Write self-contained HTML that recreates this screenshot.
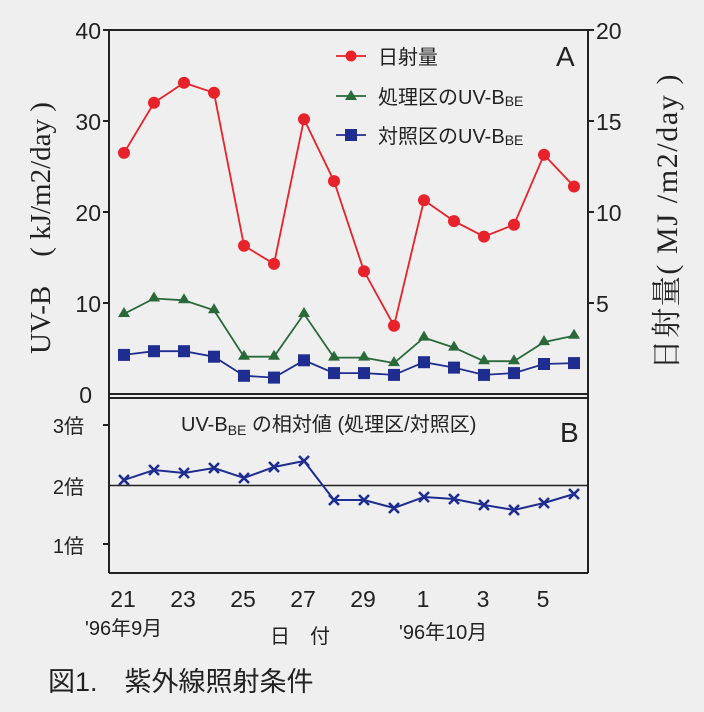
<!DOCTYPE html>
<html><head><meta charset="utf-8"><style>
html,body{margin:0;padding:0;background:#efefef;}
svg{display:block;font-family:"Liberation Sans","Noto Sans CJK JP",sans-serif;}
</style></head><body>
<svg width="704" height="712" viewBox="0 0 704 712" xmlns="http://www.w3.org/2000/svg">
<rect width="704" height="712" fill="#efefef"/>
<g stroke="#222" stroke-width="2" fill="none">
<line x1="109" y1="30" x2="588" y2="30"/>
<line x1="109" y1="30" x2="109" y2="573"/>
<line x1="588" y1="30" x2="588" y2="573"/>
<line x1="109" y1="394" x2="588" y2="394"/>
<line x1="109" y1="398" x2="588" y2="398"/>
<line x1="109" y1="573" x2="588" y2="573"/>
<line x1="109" y1="485.5" x2="588" y2="485.5" stroke-width="1.5"/>
<line x1="103" y1="30" x2="109" y2="30"/><line x1="103" y1="121" x2="109" y2="121"/>
<line x1="103" y1="212" x2="109" y2="212"/><line x1="103" y1="303" x2="109" y2="303"/>
<line x1="588" y1="121" x2="594" y2="121"/><line x1="588" y1="212" x2="594" y2="212"/>
<line x1="588" y1="303" x2="594" y2="303"/><line x1="588" y1="30" x2="594" y2="30"/>
<line x1="103" y1="425" x2="109" y2="425"/><line x1="103" y1="544" x2="109" y2="544"/>
</g>
<g font-size="23" fill="#222" text-anchor="end">
<text x="101" y="39">40</text><text x="101" y="130">30</text><text x="101" y="221">20</text>
<text x="101" y="312">10</text><text x="92" y="403">0</text>
</g>
<g font-size="23" fill="#222">
<text x="596" y="39">20</text><text x="596" y="130">15</text><text x="596" y="221">10</text><text x="596" y="312">5</text>
</g>
<g font-size="20" fill="#222" text-anchor="end">
<text x="84" y="433">3倍</text><text x="84" y="494">2倍</text><text x="84" y="553">1倍</text>
</g>
<text transform="translate(50,228) rotate(-90)" font-family="Liberation Serif,'Noto Serif CJK SC',serif" font-size="29" fill="#222" text-anchor="middle">UV-B　( kJ/m2/day )</text>
<text transform="translate(677,222) rotate(-90)" font-family="Liberation Serif,'Noto Serif CJK SC',serif" font-size="30" fill="#222" text-anchor="middle" textLength="295" lengthAdjust="spacing">日射量( MJ /m2/day )</text>
<polyline fill="none" stroke="#e8222a" stroke-width="1.8" points="124,152.9 154,102.8 184,82.8 214,92.8 244,245.7 274,263.9 304,119.2 334,181.1 364,271.2 394,325.8 424,200.2 454,221.1 484,236.6 514,224.7 544,154.7 574,186.5"/>
<g fill="#e8222a">
<circle cx="124" cy="152.9" r="6"/><circle cx="154" cy="102.8" r="6"/><circle cx="184" cy="82.8" r="6"/><circle cx="214" cy="92.8" r="6"/><circle cx="244" cy="245.7" r="6"/><circle cx="274" cy="263.9" r="6"/><circle cx="304" cy="119.2" r="6"/><circle cx="334" cy="181.1" r="6"/><circle cx="364" cy="271.2" r="6"/><circle cx="394" cy="325.8" r="6"/><circle cx="424" cy="200.2" r="6"/><circle cx="454" cy="221.1" r="6"/><circle cx="484" cy="236.6" r="6"/><circle cx="514" cy="224.7" r="6"/><circle cx="544" cy="154.7" r="6"/><circle cx="574" cy="186.5" r="6"/>
</g>
<polyline fill="none" stroke="#2a6a3a" stroke-width="1.8" points="124,313.9 154,298.5 184,300.3 214,310.3 244,356.7 274,356.7 304,313.9 334,357.6 364,357.6 394,363.1 424,337.6 454,347.6 484,361.2 514,361.2 544,342.1 574,335.8"/>
<g fill="#2a6a3a">
<path d="M124,307 l6,10 h-12z"/><path d="M154,291.5 l6,10 h-12z"/><path d="M184,293.3 l6,10 h-12z"/><path d="M214,303.3 l6,10 h-12z"/><path d="M244,349.7 l6,10 h-12z"/><path d="M274,349.7 l6,10 h-12z"/><path d="M304,307 l6,10 h-12z"/><path d="M334,350.6 l6,10 h-12z"/><path d="M364,350.6 l6,10 h-12z"/><path d="M394,356.1 l6,10 h-12z"/><path d="M424,330.6 l6,10 h-12z"/><path d="M454,340.6 l6,10 h-12z"/><path d="M484,354.2 l6,10 h-12z"/><path d="M514,354.2 l6,10 h-12z"/><path d="M544,335.1 l6,10 h-12z"/><path d="M574,328.8 l6,10 h-12z"/>
</g>
<polyline fill="none" stroke="#1e2d8f" stroke-width="1.8" points="124,354.9 154,351.2 184,351.2 214,356.7 244,375.8 274,377.6 304,360.3 334,373.1 364,373.1 394,374.9 424,362.2 454,367.6 484,374.9 514,373.1 544,364 574,363.1"/>
<g fill="#1e2d8f">
<rect x="118" y="348.9" width="12" height="12"/><rect x="148" y="345.2" width="12" height="12"/><rect x="178" y="345.2" width="12" height="12"/><rect x="208" y="350.7" width="12" height="12"/><rect x="238" y="369.8" width="12" height="12"/><rect x="268" y="371.6" width="12" height="12"/><rect x="298" y="354.3" width="12" height="12"/><rect x="328" y="367.1" width="12" height="12"/><rect x="358" y="367.1" width="12" height="12"/><rect x="388" y="368.9" width="12" height="12"/><rect x="418" y="356.2" width="12" height="12"/><rect x="448" y="361.6" width="12" height="12"/><rect x="478" y="368.9" width="12" height="12"/><rect x="508" y="367.1" width="12" height="12"/><rect x="538" y="358" width="12" height="12"/><rect x="568" y="357.1" width="12" height="12"/>
</g>
<line x1="336" y1="56" x2="366" y2="56" stroke="#e8222a" stroke-width="1.8"/><circle cx="351" cy="56" r="5.5" fill="#e8222a"/>
<line x1="336" y1="96" x2="366" y2="96" stroke="#2a6a3a" stroke-width="1.8"/><path d="M351,90 l6,10 h-12z" fill="#2a6a3a"/>
<line x1="336" y1="135" x2="366" y2="135" stroke="#1e2d8f" stroke-width="1.8"/><rect x="345" y="129" width="12" height="12" fill="#1e2d8f"/>
<g font-size="20" fill="#222">
<text x="378" y="64">日射量</text>
<text x="378" y="104">処理区のUV-B<tspan font-size="14" dy="2">BE</tspan></text>
<text x="378" y="143">対照区のUV-B<tspan font-size="14" dy="2">BE</tspan></text>
<text x="181" y="431">UV-B<tspan font-size="14" dy="4">BE</tspan><tspan dy="-4"> の相対値 (処理区/対照区)</tspan></text>
</g>
<text x="556" y="66" font-size="28" fill="#222">A</text>
<text x="560" y="442" font-size="28" fill="#222">B</text>
<polyline fill="none" stroke="#1e2d8f" stroke-width="2" points="124,480 154,470 184,473 214,468 244,478 274,467 304,461 334,500 364,500 394,508 424,497 454,499 484,505 514,510 544,503 574,494"/>
<g stroke="#1e2d8f" stroke-width="2.6">
<path d="M119,475l10,10M129,475l-10,10"/><path d="M149,465l10,10M159,465l-10,10"/><path d="M179,468l10,10M189,468l-10,10"/><path d="M209,463l10,10M219,463l-10,10"/><path d="M239,473l10,10M249,473l-10,10"/><path d="M269,462l10,10M279,462l-10,10"/><path d="M299,456l10,10M309,456l-10,10"/><path d="M329,495l10,10M339,495l-10,10"/><path d="M359,495l10,10M369,495l-10,10"/><path d="M389,503l10,10M399,503l-10,10"/><path d="M419,492l10,10M429,492l-10,10"/><path d="M449,494l10,10M459,494l-10,10"/><path d="M479,500l10,10M489,500l-10,10"/><path d="M509,505l10,10M519,505l-10,10"/><path d="M539,498l10,10M549,498l-10,10"/><path d="M569,489l10,10M579,489l-10,10"/>
</g>
<g font-size="23" fill="#222" text-anchor="middle">
<text x="123" y="607">21</text><text x="183" y="607">23</text><text x="243" y="607">25</text><text x="303" y="607">27</text><text x="363" y="607">29</text><text x="423" y="607">1</text><text x="483" y="607">3</text><text x="543" y="607">5</text>
</g>
<g font-size="20" fill="#222">
<text x="85" y="635">'96年9月</text>
<text x="270" y="643">日　付</text>
<text x="399" y="639">'96年10月</text>
</g>
<text x="48" y="691" font-size="27" fill="#222">図1.　紫外線照射条件</text>
</svg>
</body></html>
